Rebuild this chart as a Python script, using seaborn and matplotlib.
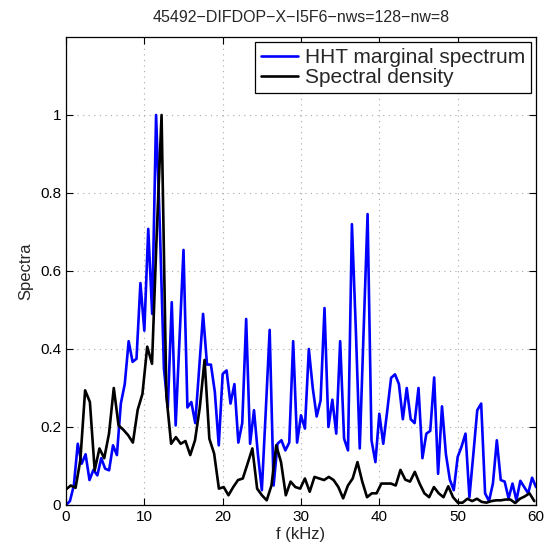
import numpy as np
import pandas as pd
import matplotlib
matplotlib.use("Agg")
import matplotlib.pyplot as plt
import seaborn as sns

# frequency grids (kHz)
f_hht = np.arange(0, 60.01, 0.5)
f_psd = np.arange(99) * 0.61

# HHT marginal spectrum (normalised)
hht = [0.0, 0.01, 0.05, 0.157, 0.106, 0.13, 0.064, 0.09, 0.076, 0.12,
       0.093, 0.089, 0.153, 0.128, 0.26, 0.31, 0.42, 0.367, 0.375, 0.569,
       0.447, 0.708, 0.49, 1.0, 0.7, 0.35, 0.25, 0.52, 0.204, 0.43,
       0.654, 0.25, 0.264, 0.21, 0.35, 0.49, 0.36, 0.36, 0.29, 0.153,
       0.336, 0.345, 0.26, 0.31, 0.16, 0.21, 0.477, 0.157, 0.243, 0.13,
       0.038, 0.24, 0.449, 0.05, 0.157, 0.166, 0.14, 0.16, 0.42, 0.16,
       0.23, 0.196, 0.40, 0.30, 0.227, 0.268, 0.505, 0.2, 0.27, 0.183,
       0.42, 0.17, 0.14, 0.72, 0.45, 0.145, 0.45, 0.746, 0.166, 0.11,
       0.234, 0.157, 0.24, 0.326, 0.335, 0.31, 0.22, 0.30, 0.22, 0.21,
       0.30, 0.12, 0.183, 0.19, 0.327, 0.08, 0.253, 0.13, 0.065, 0.038,
       0.123, 0.15, 0.183, 0.02, 0.13, 0.243, 0.26, 0.03, 0.01, 0.055,
       0.166, 0.064, 0.06, 0.017, 0.055, 0.012, 0.062, 0.046, 0.03, 0.07,
       0.046]

# spectral density (normalised)
psd = [0.04, 0.05, 0.044, 0.115, 0.294, 0.264, 0.089, 0.145, 0.12, 0.183,
       0.30, 0.204, 0.193, 0.179, 0.16, 0.244, 0.285, 0.406, 0.362, 0.7,
       1.0, 0.281, 0.157, 0.174, 0.157, 0.164, 0.128, 0.166, 0.25, 0.372,
       0.17, 0.132, 0.042, 0.046, 0.025, 0.046, 0.064, 0.068, 0.106, 0.145,
       0.042, 0.025, 0.012, 0.05, 0.153, 0.11, 0.025, 0.06, 0.046, 0.042,
       0.068, 0.034, 0.072, 0.068, 0.064, 0.072, 0.064, 0.046, 0.017, 0.05,
       0.068, 0.11, 0.06, 0.02, 0.03, 0.03, 0.055, 0.055, 0.055, 0.05,
       0.09, 0.065, 0.06, 0.085, 0.055, 0.03, 0.02, 0.046, 0.03, 0.02,
       0.048, 0.02, 0.006, 0.006, 0.016, 0.01, 0.016, 0.008, 0.006, 0.01,
       0.012, 0.012, 0.014, 0.014, 0.005, 0.016, 0.022, 0.03, 0.01]

sns.set_style("ticks")
plt.rcParams['font.family'] = ['Liberation Sans', 'DejaVu Sans']

fig = plt.figure(figsize=(5.47, 5.58), dpi=100)
ax = fig.add_axes([66 / 547, 1 - 505 / 558, 470 / 547, 468 / 558])

df_hht = pd.DataFrame({'f': f_hht, 'v': hht})
df_psd = pd.DataFrame({'f': f_psd, 'v': psd})
sns.lineplot(data=df_hht, x='f', y='v', color='#0000ff', lw=1.9,
             label='HHT marginal spectrum', estimator=None, ax=ax)
sns.lineplot(data=df_psd, x='f', y='v', color='black', lw=1.9,
             label='Spectral density', estimator=None, ax=ax)

ax.set_xlim(0, 60)
ax.set_ylim(0, 1.2)
ax.set_xticks(range(0, 61, 10))
ax.set_yticks([0, 0.2, 0.4, 0.6, 0.8, 1])
ax.set_yticklabels(['0', '0.2', '0.4', '0.6', '0.8', '1'])
ax.grid(True, linestyle=(0, (1, 4)), color='#a8a8a8', lw=0.8)
ax.tick_params(direction='in', top=True, right=True, length=5, width=0.8,
               labelsize=11, colors='black')
for s in ax.spines.values():
    s.set_color('black')
    s.set_linewidth(0.9)

ax.set_xlabel('f (kHz)', fontsize=12, labelpad=2)
ax.set_ylabel('Spectra', fontsize=12, labelpad=5)
ax.set_title('45492\u2212DIFDOP\u2212X\u2212I5F6\u2212nws=128\u2212nw=8',
             fontsize=11.5, pad=11)

leg = ax.legend(loc='upper right', fontsize=15, frameon=True, fancybox=False,
                edgecolor='black', framealpha=1, borderaxespad=0.25,
                handlelength=1.8, labelspacing=0.05, borderpad=0.28,
                handletextpad=0.3)
leg.get_frame().set_linewidth(0.9)

fig.savefig('out.png', dpi=100)
